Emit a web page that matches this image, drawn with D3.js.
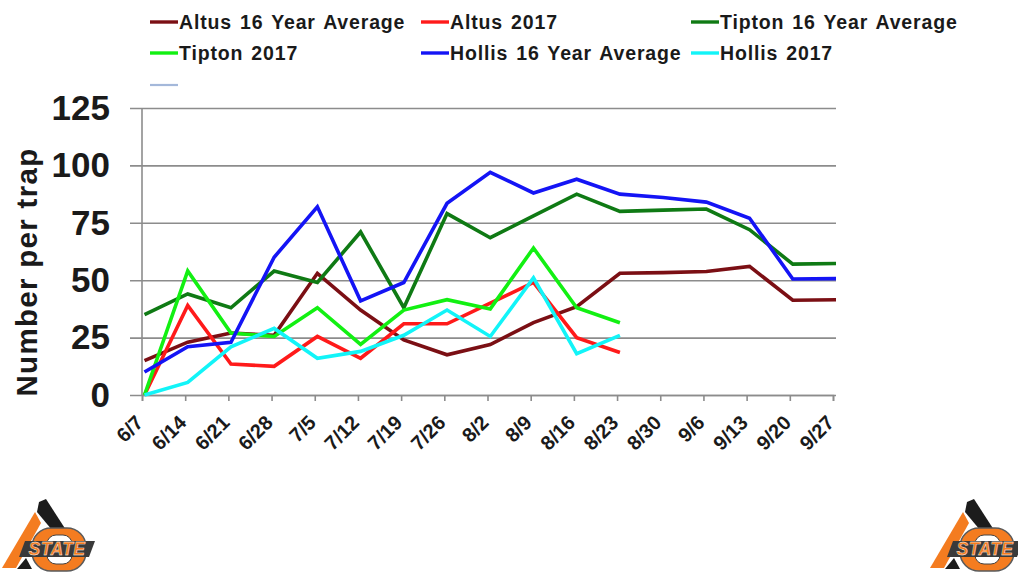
<!DOCTYPE html>
<html>
<head>
<meta charset="utf-8">
<script src="https://cdn.jsdelivr.net/npm/d3@7"></script>
<style>
  html, body { margin: 0; padding: 0; background: #fff; }
  svg { display: block; }
  text { font-family: "Liberation Sans", Arial, sans-serif; font-weight: bold; fill: #1a1a1a; }
</style>
</head>
<body>
<svg id="chart" width="1018" height="579"></svg>
<script>
const dates = ["6/7","6/14","6/21","6/28","7/5","7/12","7/19","7/26","8/2","8/9","8/16","8/23","8/30","9/6","9/13","9/20","9/27"];
const yTicks = [0, 25, 50, 75, 100, 125];

const altusAvg   = [15, 23, 27, 26, 53, 37, 24, 17.5, 22, 31.5, 38.5, 53, 53.3, 53.8, 56, 41.3, 41.5];
const altus2017  = [0, 39, 13.5, 12.5, 25.5, 16, 31, 31, 40, 49, 25, 18.5];
const tiptonAvg  = [35, 44, 38, 54, 49, 71, 38, 79, 68.5, 78, 87.5, 80, 80.5, 81, 72, 57, 57.3];
const tipton2017 = [0, 54, 27, 25.5, 38, 22, 37, 41.5, 37.5, 64, 38, 31.5];
const hollisAvg  = [10, 21, 23, 60, 82, 41, 49, 83.5, 97, 88, 94, 87.5, 86, 84, 77, 50.5, 50.7];
const hollis2017 = [0, 5.5, 21, 29, 16, 19, 26, 37, 25.5, 51, 18, 26];

const seriesNames  = ["Altus 16 Year Average","Altus 2017","Tipton 16 Year Average","Tipton 2017","Hollis 16 Year Average","Hollis 2017"];
const seriesValues = [altusAvg, altus2017, tiptonAvg, tipton2017, hollisAvg, hollis2017];
const seriesColors = ["#7b0f14","#ff1a1a","#0f7a14","#12f012","#1414f5","#12f4f8"];

const svg = d3.select("#chart");

// Lines sit a little to the right of their tick marks, so each gets its own point scale.
const xLine = d3.scalePoint().domain(dates).range([144.5, 836]);
const xTick = d3.scalePoint().domain(dates).range([142, 833]);
const y = d3.scaleLinear().domain([0, 125]).range([395, 108]);

// Horizontal gridlines with outward tick labels
const yAxis = d3.axisLeft(y).tickValues(yTicks).tickSize(706).tickFormat(d3.format("d"));
const gy = svg.append("g").attr("transform", "translate(836,0)").call(yAxis);
gy.select(".domain").remove();
gy.selectAll("line").attr("stroke", "#8c8c8c").attr("stroke-width", 1.6);
gy.selectAll("text").style("font-size", "35px").attr("x", -726).attr("dy", "0.32em");

// Vertical axis rule
svg.append("line").attr("x1", 142).attr("x2", 142).attr("y1", 108).attr("y2", 395)
  .attr("stroke", "#8c8c8c").attr("stroke-width", 1.6);

// Category axis with slanted date labels
const xAxis = d3.axisBottom(xTick).tickSize(6).tickPadding(5);
const gx = svg.append("g").attr("transform", "translate(0,395)").call(xAxis);
gx.select(".domain").attr("stroke", "#8c8c8c").attr("stroke-width", 1.6);
gx.selectAll("line").attr("stroke", "#8c8c8c").attr("stroke-width", 1.6);
gx.selectAll("text")
  .style("font-size", "20px")
  .attr("text-anchor", "end")
  .attr("y", 0)
  .attr("dy", "0.35em")
  .attr("transform", "translate(-3,24) rotate(-45)");

svg.append("text")
  .attr("transform", "translate(37,272) rotate(-90)")
  .attr("text-anchor", "middle")
  .style("font-size", "29.5px")
  .style("letter-spacing", "1.3px")
  .text("Number per trap");

// Data lines
const line = d3.line().x((d, i) => xLine(dates[i])).y(d => y(d));
svg.selectAll("path.series")
  .data(seriesValues)
  .join("path")
  .attr("class", "series")
  .attr("fill", "none")
  .attr("stroke", (d, i) => seriesColors[i])
  .attr("stroke-width", 3.6)
  .attr("stroke-linejoin", "miter")
  .attr("d", line);

// Legend: three columns, filled row by row
const legendX = d3.scaleOrdinal().domain([0, 1, 2]).range([150, 421, 691]);
const legendY = d3.scaleOrdinal().domain([0, 1]).range([22, 53]);
const legend = svg.selectAll("g.key")
  .data(seriesNames)
  .join("g")
  .attr("class", "key")
  .attr("transform", (d, i) => `translate(${legendX(i % 3)},${legendY(Math.floor(i / 3))})`);
legend.append("line")
  .attr("x1", 0).attr("x2", 28)
  .attr("stroke", (d, i) => seriesColors[i])
  .attr("stroke-width", 3.4);
legend.append("text")
  .attr("x", 29).attr("dy", "0.35em")
  .style("font-size", "19.5px")
  .style("letter-spacing", "0.85px")
  .style("word-spacing", "1.8px")
  .text(d => d);

// Unlabelled entry on the third row
svg.append("line").attr("x1", 150).attr("x2", 178).attr("y1", 85).attr("y2", 85)
  .attr("stroke", "#a4b8da").attr("stroke-width", 2.2);

// University mark, used in both bottom corners
function drawMark(x) {
  const g = svg.append("g").attr("transform", `translate(${x},0)`);
  g.append("path").attr("d", "M39 502 L46 499 L66 530 L52 530 L37 512 Z").attr("fill", "#1c1c1c");
  g.append("path").attr("d", "M35 512 L41 523 L16 568 L2 568 Z").attr("fill", "#f47c20");
  g.append("path").attr("d", "M26 558 L17 569 L32 569 Z").attr("fill", "#1c1c1c");
  g.append("rect").attr("x", 32).attr("y", 528).attr("width", 54).attr("height", 43)
    .attr("rx", 19).attr("fill", "#f47c20").attr("stroke", "#5a5a5a").attr("stroke-width", 1.5);
  g.append("rect").attr("x", 47).attr("y", 535).attr("width", 25).attr("height", 29)
    .attr("rx", 9).attr("fill", "#fff").attr("stroke", "#444").attr("stroke-width", 1);
  g.append("path").attr("d", "M25 541 L95 541 L89 557 L19 557 Z").attr("fill", "#3a3a3a");
  g.append("text")
    .attr("x", 57).attr("y", 555)
    .attr("text-anchor", "middle")
    .style("font-size", "17.5px")
    .style("font-style", "italic")
    .style("letter-spacing", "0.4px")
    .style("fill", "#f47c20")
    .style("stroke", "#fff")
    .style("stroke-width", "0.35px")
    .text("STATE");
}
drawMark(0);
drawMark(928);
</script>
</body>
</html>
